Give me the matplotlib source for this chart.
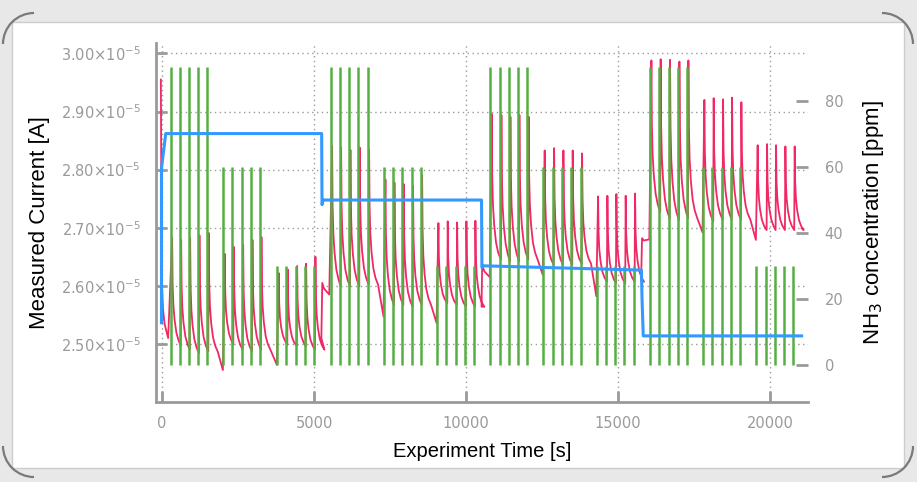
import numpy as np
import matplotlib.pyplot as plt
from matplotlib.patches import Rectangle, Arc

# gas pulse start times [s], 12 groups of 5 pulses
pulse_t = [
    [286, 582, 878, 1184, 1490],
    [2017, 2313, 2622, 2928, 3224],
    [3793, 4089, 4398, 4694, 5000],
    [5549, 5845, 6151, 6457, 6766],
    [7303, 7599, 7905, 8211, 8510],
    [9046, 9352, 9661, 9967, 10263],
    [10800, 11118, 11414, 11710, 12016],
    [12543, 12852, 13158, 13464, 13773],
    [14299, 14605, 14901, 15207, 15516],
    [16053, 16358, 16667, 16974, 17270],
    [17796, 18102, 18411, 18707, 19013],
    [19549, 19858, 20154, 20461, 20767],
]
pulse_ppm = [90, 60, 30, 90, 60, 30, 90, 60, 30, 90, 60, 30]

# measured current (x1e-5 A): peak and trough of each pulse
peak_cur = [
    [2.682, 2.679, 2.682, 2.687, 2.691],
    [2.655, 2.667, 2.671, 2.679, 2.684],
    [2.622, 2.628, 2.634, 2.638, 2.650],
    [2.840, 2.838, 2.834, 2.838, 2.834],
    [2.783, 2.778, 2.775, 2.772, 2.790],
    [2.708, 2.711, 2.709, 2.711, 2.712],
    [2.896, 2.894, 2.891, 2.894, 2.891],
    [2.833, 2.837, 2.833, 2.833, 2.828],
    [2.754, 2.755, 2.758, 2.755, 2.759],
    [2.988, 2.990, 2.989, 2.986, 2.988],
    [2.920, 2.923, 2.921, 2.924, 2.916],
    [2.842, 2.844, 2.842, 2.840, 2.840],
]
trough_cur = [
    [2.497, 2.490, 2.484, 2.487, 2.455],
    [2.499, 2.490, 2.487, 2.490, 2.464],
    [2.499, 2.496, 2.496, 2.490, 2.510],
    [2.599, 2.599, 2.599, 2.602, 2.547],
    [2.567, 2.567, 2.564, 2.567, 2.536],
    [2.570, 2.567, 2.564, 2.564, 2.564],
    [2.645, 2.642, 2.642, 2.645, 2.619],
    [2.636, 2.636, 2.636, 2.638, 2.582],
    [2.607, 2.604, 2.604, 2.607, 2.609],
    [2.727, 2.716, 2.713, 2.716, 2.692],
    [2.711, 2.714, 2.714, 2.714, 2.679],
    [2.696, 2.696, 2.696, 2.696, 2.699],
]
group_end = [2000, 3775, 5240, 7285, 9030, 10510, 12525, 14285, 15760, 17780, 19535, 21040]

decay_dt = [45, 60, 85, 125, 185, 255]
decay_frac = [1.0, 0.58, 0.38, 0.24, 0.12, 0.05]

# current at the very start and the jumps when the concentration changes
start_t = [-40, -20, 0, 30, 80, 200]
start_cur = [2.955, 2.70, 2.60, 2.56, 2.535, 2.51]
step_groups = [2, 5, 8]
step_t = [[5270, 5330, 5500], [10530, 10600, 10780], [15790, 15850, 16030]]
step_cur = [[2.605, 2.595, 2.585], [2.636, 2.625, 2.615], [2.682, 2.678, 2.680]]

# measured NH3 concentration [ppm]
nh3_t = [-20, -20, 120, 5250, 5262, 5300, 10510, 10522, 10560, 15770, 15790, 15830, 21040]
nh3_ppm = [12.8, 59.5, 70.0, 70.0, 48.5, 49.9, 49.9, 29.5, 30.0, 28.7, 20.0, 8.8, 8.8]

xticks = [0, 5000, 10000, 15000, 20000]
yticks = [2.50e-5, 2.60e-5, 2.70e-5, 2.80e-5, 2.90e-5, 3.00e-5]
ytick_labels = [r'2.50$\times$10$^{-5}$', r'2.60$\times$10$^{-5}$', r'2.70$\times$10$^{-5}$',
                r'2.80$\times$10$^{-5}$', r'2.90$\times$10$^{-5}$', r'3.00$\times$10$^{-5}$']
ppm_ticks = [0, 20, 40, 60, 80]

# build current trace
cur_t = list(start_t)
cur_v = list(start_cur)
for g in range(len(pulse_t)):
    ts = pulse_t[g]
    for i in range(5):
        # the last pulse decays towards the level of the others, then drifts further
        base = trough_cur[g][i] if i < 4 else trough_cur[g][3]
        amp = peak_cur[g][i] - base
        for dt, fr in zip(decay_dt, decay_frac):
            cur_t.append(ts[i] + dt)
            cur_v.append(base + fr * amp)
        if i < 4:
            cur_t.append(ts[i + 1] + 30)
            cur_v.append(trough_cur[g][i])
        else:
            cur_t += [ts[i] + 340, group_end[g]]
            cur_v += [base, trough_cur[g][4]]
    if g in step_groups:
        k = step_groups.index(g)
        cur_t += step_t[k]
        cur_v += step_cur[k]
cur_t = np.array(cur_t)
cur_v = np.array(cur_v) * 1e-5

W, H = 917, 482
fig = plt.figure(figsize=(W / 100, H / 100), dpi=100)
fig.patch.set_facecolor('#e8e8e8')

# white panel with rounded dark corners
panel = Rectangle((12 / W, (H - 468) / H), 892 / W, 446 / H, transform=fig.transFigure,
                  facecolor='white', edgecolor='#cdcdcd', lw=1, zorder=-10)
fig.patches.append(panel)
for cx, cy, a0 in [(34, 44, 90), (882, 44, 0), (34, 446, 180), (882, 446, 270)]:
    arc = Arc((cx, H - cy), 62, 62, theta1=a0, theta2=a0 + 90, color='#7a7a7a', lw=1.6,
              transform=None, zorder=-9)
    fig.patches.append(arc)

ax = fig.add_axes([156 / W, (H - 402) / H, (808 - 156) / W, (402 - 43) / H])
ax.set_facecolor('none')
ax.plot(cur_t, cur_v, color='#f02864', lw=1.3, zorder=3)

ax.set_xlim(-200, 21250)
ax.set_ylim(2.40e-5, 3.018e-5)
ax.set_xticks(xticks)
ax.set_xticklabels([str(x) for x in xticks])
ax.set_yticks(yticks)
ax.set_yticklabels(ytick_labels)
ax.grid(True, ls=(0, (1, 2.5)), color='#9a9a9a', lw=1)
ax.set_axisbelow(True)
for s in ['top', 'right']:
    ax.spines[s].set_visible(False)
for s in ['left', 'bottom']:
    ax.spines[s].set_color('#9a9a9a')
    ax.spines[s].set_linewidth(2)
ax.tick_params(axis='both', direction='in', length=8, width=2, color='#9a9a9a',
               labelcolor='#9a9a9a', labelsize=10.5)
ax.tick_params(axis='y', pad=11)
ax.tick_params(axis='x', pad=10)
ax.set_xlabel('Experiment Time [s]', fontsize=14.5, family='Liberation Sans', labelpad=8)
ax.set_ylabel('Measured Current [A]', fontsize=16, family='Liberation Sans', labelpad=8)

ax2 = ax.twinx()
ax2.set_ylim(-11.2, 97.4)
for g in range(len(pulse_t)):
    ax2.vlines(pulse_t[g], 0, pulse_ppm[g], color='#55b043', lw=1.8, zorder=2)
ax2.plot(nh3_t, nh3_ppm, color='#3399ff', lw=2.2, zorder=4)
for s in ax2.spines.values():
    s.set_visible(False)
ax2.set_yticks(ppm_ticks)
ax2.tick_params(axis='y', direction='in', length=9, width=2, color='#9a9a9a',
                labelcolor='#9a9a9a', labelsize=10.5, pad=12)
ax2.set_ylabel(r'NH$_3$ concentration [ppm]', fontsize=16, family='Liberation Sans',
               labelpad=13)

fig.savefig('out.png', dpi=100, facecolor=fig.get_facecolor())
